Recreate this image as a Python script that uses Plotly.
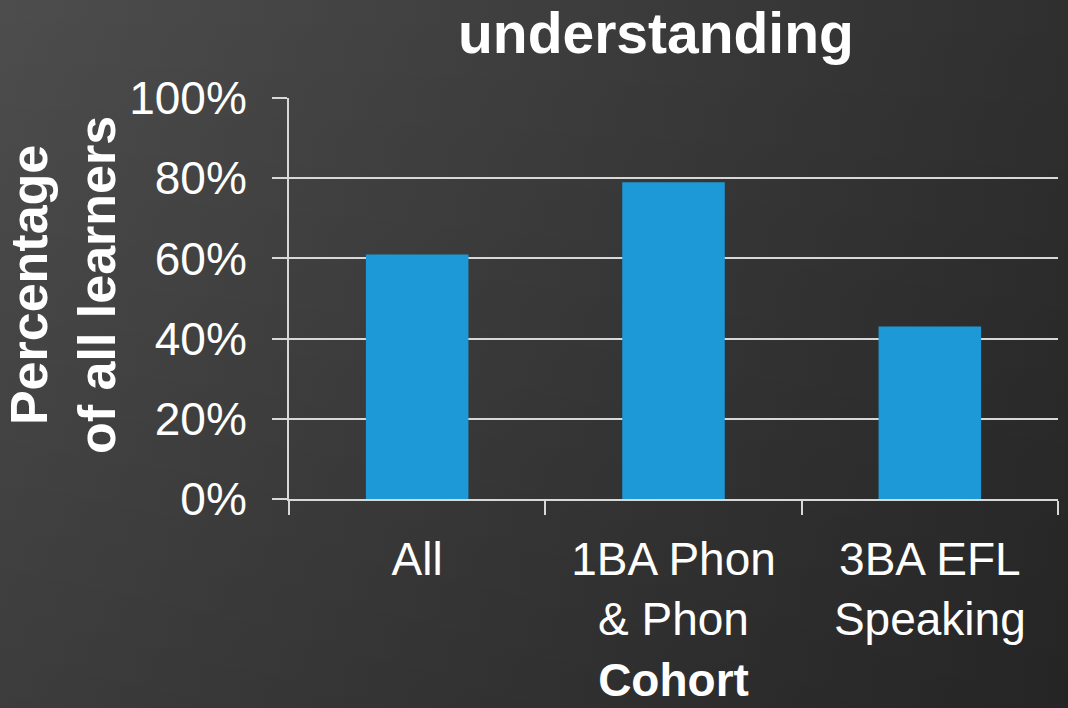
import base64
import plotly.graph_objects as go

categories = ["All", "1BA Phon<br>& Phon", "3BA EFL<br>Speaking"]
values = [0.61, 0.79, 0.43]
y_ticks = [0, 0.2, 0.4, 0.6, 0.8, 1.0]
y_tick_labels = ["0%", "20%", "40%", "60%", "80%", "100%"]
title_text = "understanding"
x_title = "Cohort"
y_title = "Percentage<br>of all learners"

FONT = "Arial, Liberation Sans, sans-serif"
BAR = "#1e99d7"
GRID = "#d8d8d8"
W, H = 1068, 708
L, R, T, B = 289, 10, 98, 209
PW, PH = W - L - R, H - T - B

fig = go.Figure()
fig.add_trace(go.Bar(x=categories, y=values, marker=dict(color=BAR, line=dict(width=0)), width=0.4))

# background gradient as an inline SVG image (style only)
svg = (
    '<svg xmlns="http://www.w3.org/2000/svg" width="1068" height="708" preserveAspectRatio="none">'
    '<defs>'
    '<linearGradient id="h" x1="0" y1="0" x2="1" y2="0">'
    '<stop offset="0" stop-color="#4d4d4d"/><stop offset="1" stop-color="#2f2f2f"/></linearGradient>'
    '<linearGradient id="v" x1="0" y1="0" x2="0" y2="1">'
    '<stop offset="0" stop-color="#000" stop-opacity="0"/><stop offset="1" stop-color="#000" stop-opacity="0.22"/></linearGradient>'
    '</defs>'
    '<rect width="1068" height="708" fill="url(#h)"/>'
    '<rect width="1068" height="708" fill="url(#v)"/>'
    '</svg>'
)
src = "data:image/svg+xml;base64," + base64.b64encode(svg.encode()).decode()

fig.update_layout(
    width=W, height=H,
    margin=dict(l=L, r=R, t=T, b=B),
    paper_bgcolor="#3c3c3c",
    plot_bgcolor="rgba(0,0,0,0)",
    images=[dict(source=src, xref="paper", yref="paper",
                 x=-L / PW, y=1 + T / PH, sizex=W / PW, sizey=H / PH,
                 xanchor="left", yanchor="top", sizing="stretch", layer="below")],
    showlegend=False,
    font=dict(family=FONT, color="white", size=46),
    bargap=0.6,
    annotations=[
        dict(text=f"<b>{title_text}</b>", xref="paper", yref="paper",
             x=(656 - L) / PW, y=1 + (T - 33) / PH, xanchor="center", yanchor="middle",
             showarrow=False, font=dict(size=57, color="white", family=FONT)),
        dict(text=f"<b>{y_title}</b>", xref="paper", yref="paper", textangle=-90,
             x=(63 - L) / PW, y=1 - (285 - T) / PH, xanchor="center", yanchor="middle",
             showarrow=False, font=dict(size=52, color="white", family=FONT)),
    ],
)
fig.update_xaxes(
    showline=True, linecolor=GRID, linewidth=2,
    ticks="outside", tickson="boundaries", ticklen=14, tickwidth=2, tickcolor=GRID,
    tickfont=dict(size=46, color="white"), ticklabelstandoff=19,
    title=dict(text=f"<b>{x_title}</b>", font=dict(size=46, color="white"), standoff=20),
    showgrid=False,
)
fig.update_yaxes(
    range=[0, 1.0], tickvals=y_ticks, ticktext=y_tick_labels,
    showline=True, linecolor=GRID, linewidth=2,
    showgrid=True, gridcolor=GRID, gridwidth=2,
    ticks="outside", ticklen=15, tickwidth=2, tickcolor=GRID,
    tickfont=dict(size=46, color="white"), ticklabelstandoff=16,
    zeroline=False,
)
fig.write_html("out.html", config={"displayModeBar": False},
               post_script="document.body.style.margin='0';")
